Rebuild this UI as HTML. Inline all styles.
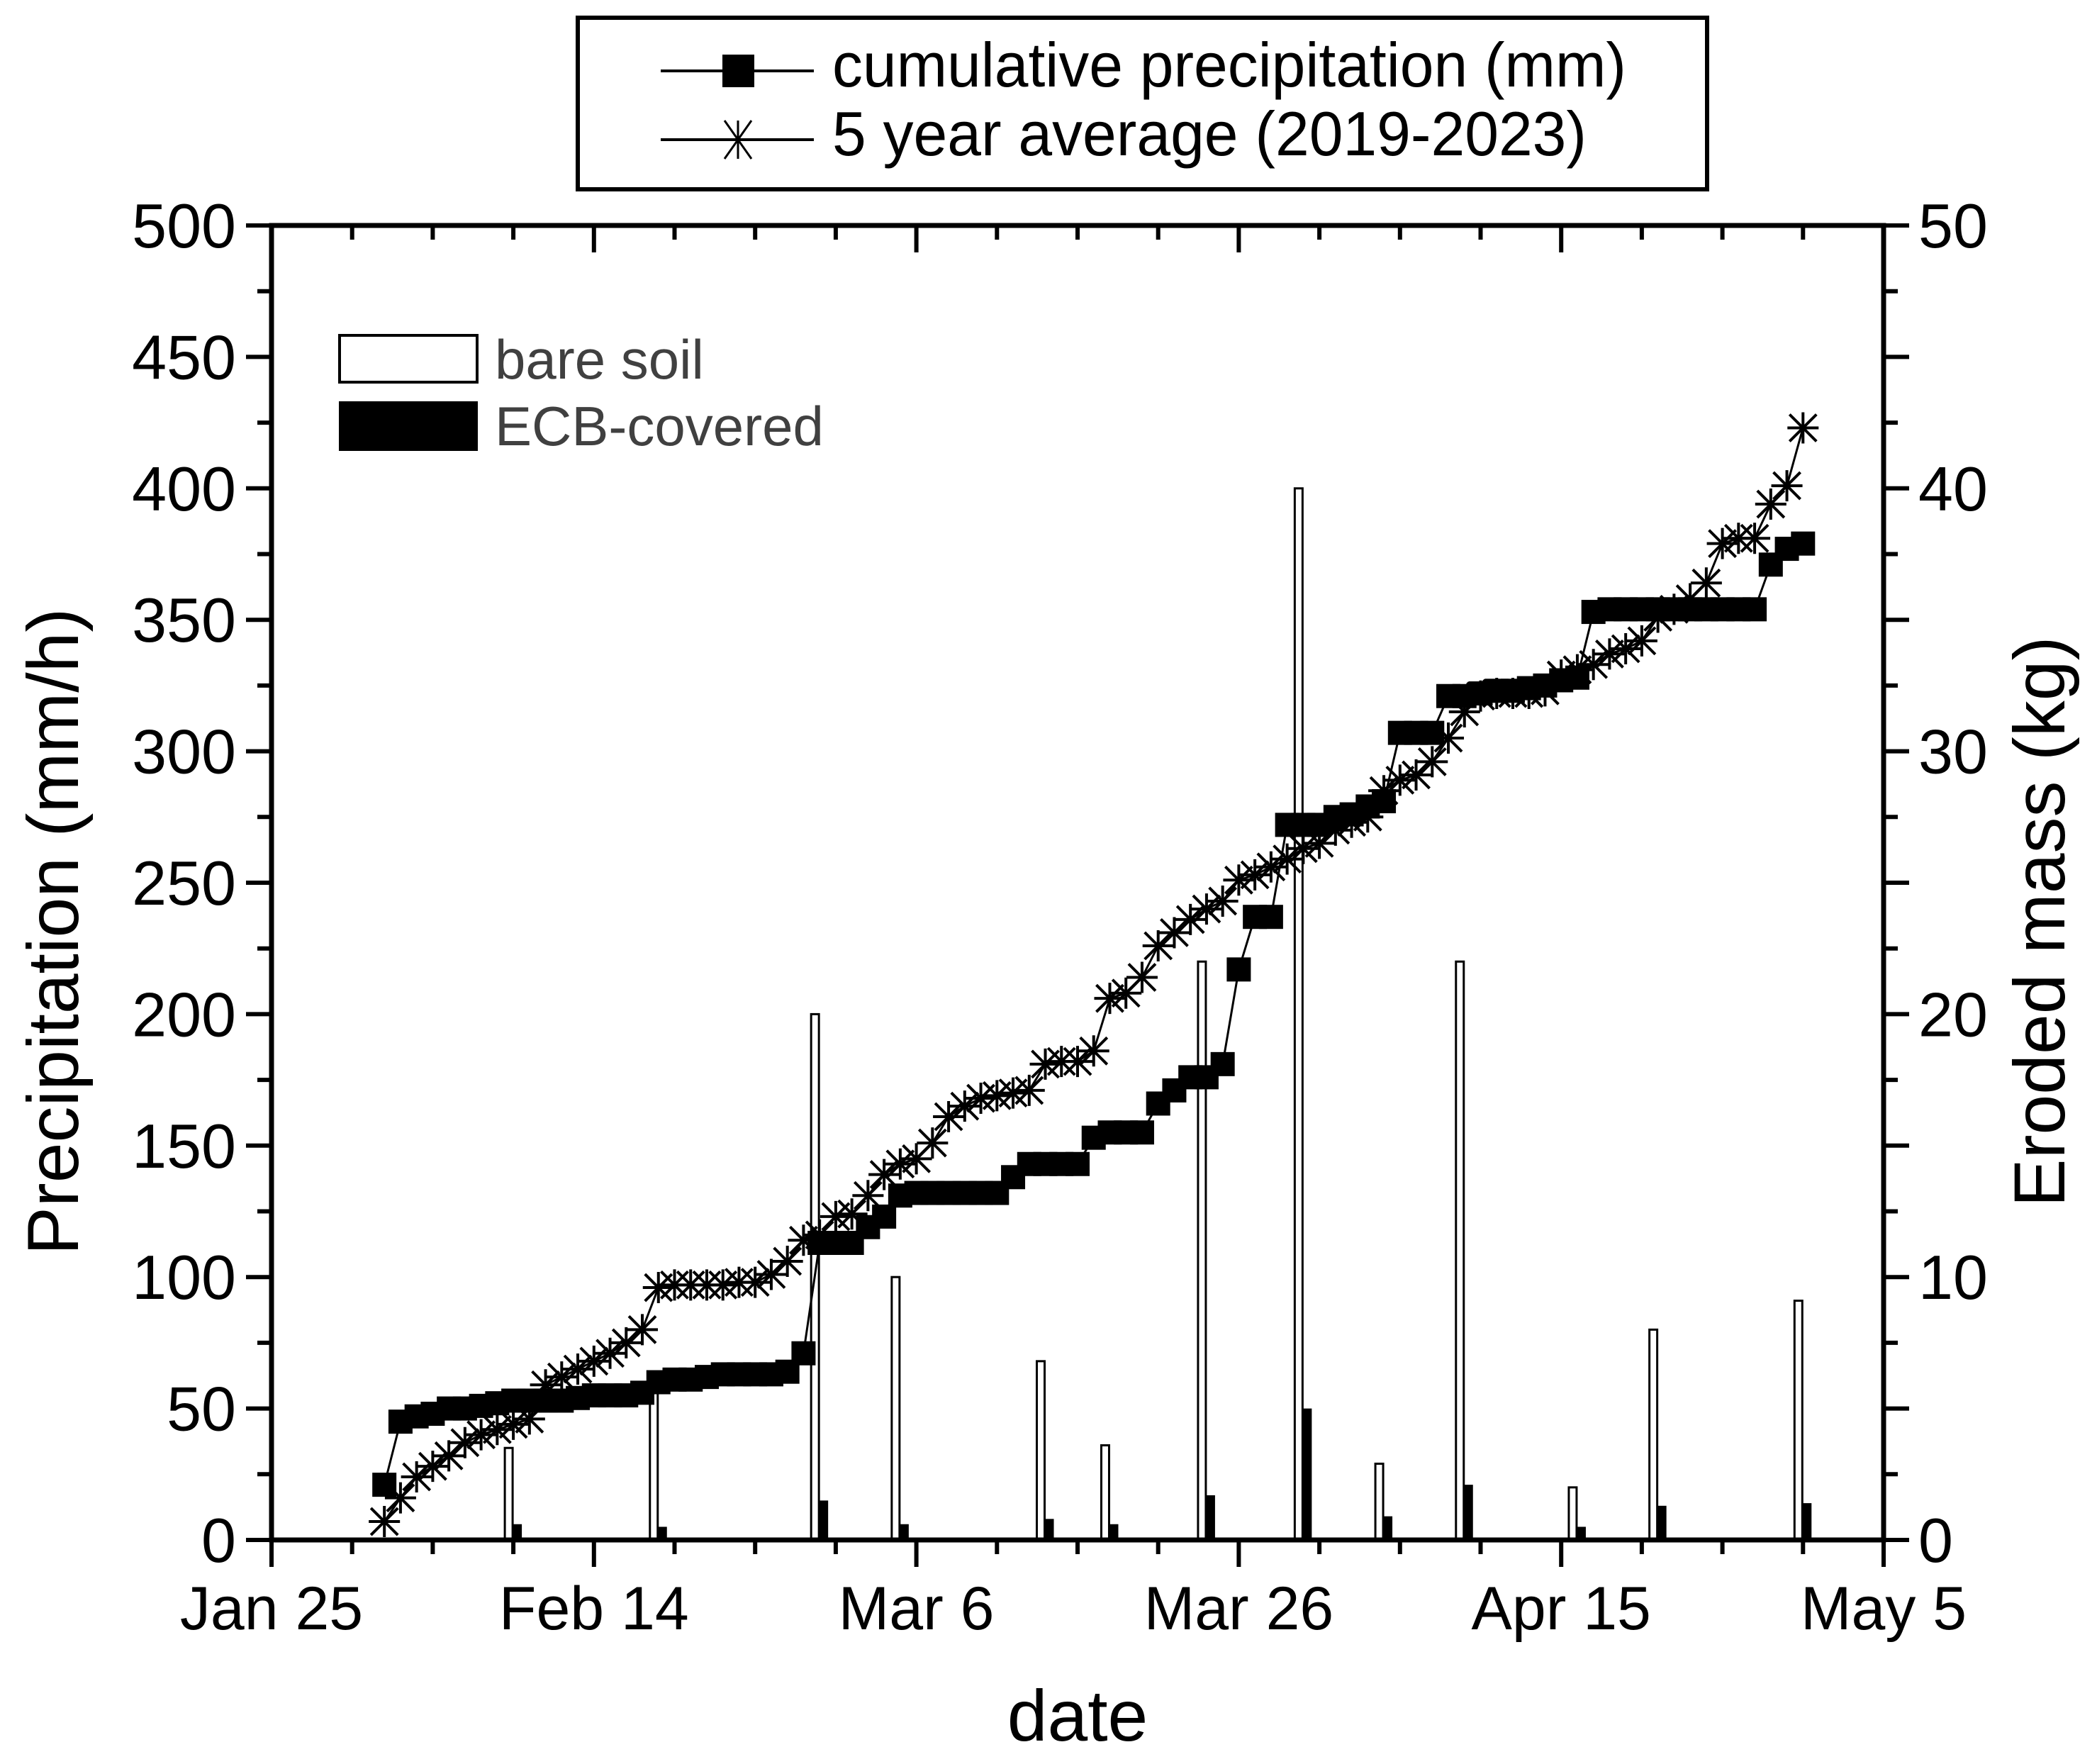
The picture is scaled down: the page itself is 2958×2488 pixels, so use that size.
<!DOCTYPE html>
<html><head><meta charset="utf-8"><style>
html,body{margin:0;padding:0;background:#fff;}
svg{display:block;font-family:"Liberation Sans",Arial,sans-serif;}
</style></head><body>
<svg id="chart" width="2958" height="2488" viewBox="0 0 2958 2488" xmlns="http://www.w3.org/2000/svg">
<rect x="0" y="0" width="2958" height="2488" fill="#fff"/>
<g id="bars"></g>
<g id="lines"></g>
<g id="marks"></g>
<g id="axes"></g>
<g>
<rect x="815" y="25" width="1593" height="242" fill="none" stroke="#000" stroke-width="6"/>
<line x1="932" y1="100" x2="1148" y2="100" stroke="#000" stroke-width="4"/>
<rect x="1019" y="77" width="45" height="46" fill="#000"/>
<text x="1174" y="122" font-size="88" textLength="1120" lengthAdjust="spacingAndGlyphs">cumulative precipitation (mm)</text>
<line x1="932" y1="197" x2="1148" y2="197" stroke="#000" stroke-width="4"/>
<g stroke="#000" stroke-width="3">
<line x1="1041" y1="170" x2="1041" y2="224"/><line x1="1015" y1="197" x2="1067" y2="197"/>
<line x1="1022" y1="170" x2="1060" y2="224"/><line x1="1060" y1="170" x2="1022" y2="224"/></g>
<text x="1174" y="219" font-size="88" textLength="1064" lengthAdjust="spacingAndGlyphs">5 year average (2019-2023)</text>
</g>
<g>
<rect x="479" y="473" width="194" height="66" fill="#fff" stroke="#000" stroke-width="4"/>
<text x="698" y="534" font-size="78" fill="#404040">bare soil</text>
<rect x="478" y="566" width="196" height="70" fill="#000"/>
<text x="698" y="628" font-size="78" fill="#404040">ECB-covered</text>
</g>
<text transform="translate(110,1314) rotate(-90)" text-anchor="middle" font-size="102">Precipitation (mm/h)</text>
<text transform="translate(2912,1300) rotate(-90)" text-anchor="middle" font-size="102">Eroded mass (kg)</text>
<text x="1520" y="2455" text-anchor="middle" font-size="102">date</text>
</svg>
<script>
const startDay = 7;
const cumPrecip = [21,45,47,48,50,50,51,52,53,53,53,53,54,55,55,55,56,60,61,61,62,63,63,63,63,64,71,113,113,113,119,123,131,132,132,132,132,132,132,138,143,143,143,143,153,155,155,155,166,171,176,176,181,217,237,237,272,272,272,275,276,279,281,307,307,307,321,321,322,323,323,324,325,327,328,353,354,354,354,354,354,354,354,354,354,354,371,377,379];
const avg5yr = [7,16,24,28,32,37,40,42,44,46,59,62,65,68,71,75,80,96,97,97,97,97,98,98,101,106,114,116,123,124,131,139,143,145,151,161,165,168,169,170,171,181,182,182,186,206,208,214,226,231,236,240,243,251,253,256,259,263,265,270,273,275,285,289,291,296,305,315,321,322,322,322,323,329,331,333,337,339,342,351,354,358,364,379,381,381,394,401,423];
const barDays = [15,24,34,39,48,52,58,64,69,74,81,86,95];
const bareSoil = [3.5,5.6,20,10,6.8,3.6,22,40,2.9,22,2.0,8.0,9.1];
const ecbCovered = [0.6,0.5,1.5,0.6,0.8,0.6,1.7,5.0,0.9,2.1,0.5,1.3,1.4];
const xTickLabels = ["Jan 25","Feb 14","Mar 6","Mar 26","Apr 15","May 5"];
const yTicks = [0,50,100,150,200,250,300,350,400,450,500];
const y2Ticks = [0,10,20,30,40,50];

const NS="http://www.w3.org/2000/svg";
const X0=383,X1=2657,Y0=2172,Y1=318;
function xs(d){return X0+(X1-X0)*d/100;}
function ys(v){return Y0-(Y0-Y1)*v/500;}
function ys2(v){return Y0-(Y0-Y1)*v/50;}
function mk(tag,attrs,parent){const e=document.createElementNS(NS,tag);for(const k in attrs)e.setAttribute(k,attrs[k]);parent.appendChild(e);return e;}
const gB=document.getElementById('bars'),gL=document.getElementById('lines'),gM=document.getElementById('marks'),gA=document.getElementById('axes');

barDays.forEach((d,i)=>{
  const c=xs(d);
  let r=mk('rect',{x:c-12,y:ys2(bareSoil[i]),width:11,height:Y0-ys2(bareSoil[i]),fill:'#fff',stroke:'#000','stroke-width':3},gB);
  
  
  let e=mk('rect',{x:c,y:ys2(ecbCovered[i]),width:12,height:Y0-ys2(ecbCovered[i]),fill:'#000'},gB);
  
  
});

function pts(arr){return arr.map((v,i)=>xs(startDay+i).toFixed(1)+','+ys(v).toFixed(1)).join(' ');}
let l1=mk('polyline',{points:pts(cumPrecip),fill:'none',stroke:'#000','stroke-width':3},gL);


let l2=mk('polyline',{points:pts(avg5yr),fill:'none',stroke:'#000','stroke-width':3},gL);



avg5yr.forEach((v,i)=>{
  const cx=xs(startDay+i),cy=ys(v),r=22;
  const g=mk('g',{stroke:'#000','stroke-width':4},gM);
  
  
  mk('line',{x1:cx-r,y1:cy,x2:cx+r,y2:cy},g);
  mk('line',{x1:cx,y1:cy-r,x2:cx,y2:cy+r},g);
  mk('line',{x1:cx-19,y1:cy-19,x2:cx+19,y2:cy+19},g);
  mk('line',{x1:cx-19,y1:cy+19,x2:cx+19,y2:cy-19},g);
});
cumPrecip.forEach((v,i)=>{
  const cx=xs(startDay+i),cy=ys(v);
  const s=mk('rect',{x:cx-17,y:cy-17,width:34,height:34,fill:'#000'},gM);
  
  
});

const fr=mk('rect',{x:X0,y:Y1,width:X1-X0,height:Y0-Y1,fill:'none',stroke:'#000','stroke-width':7},gA);


for(let d=0;d<=100;d+=5){
  const x=xs(d),major=d%20===0;
  mk('line',{x1:x,y1:Y0,x2:x,y2:Y0+(major?38:20),stroke:'#000','stroke-width':6},gA);
  mk('line',{x1:x,y1:Y1,x2:x,y2:Y1+(major?38:20),stroke:'#000','stroke-width':6},gA);
}
xTickLabels.forEach((t,i)=>{
  const tx=mk('text',{x:xs(i*20),y:2298,'text-anchor':'middle','font-size':86},gA);
  tx.textContent=t;
  
  
});
for(let v=0;v<=500;v+=25){
  const y=ys(v),major=v%50===0;
  mk('line',{x1:X0,y1:y,x2:X0-(major?36:20),y2:y,stroke:'#000','stroke-width':6},gA);
  mk('line',{x1:X1,y1:y,x2:X1+(major?36:20),y2:y,stroke:'#000','stroke-width':6},gA);
}
yTicks.forEach(v=>{
  const tx=mk('text',{x:333,y:ys(v)+31,'text-anchor':'end','font-size':88},gA);
  tx.textContent=String(v);
  
  
});
y2Ticks.forEach(v=>{
  const tx=mk('text',{x:2706,y:ys2(v)+31,'text-anchor':'start','font-size':88},gA);
  tx.textContent=String(v);
  
  
});
</script>
</body></html>
